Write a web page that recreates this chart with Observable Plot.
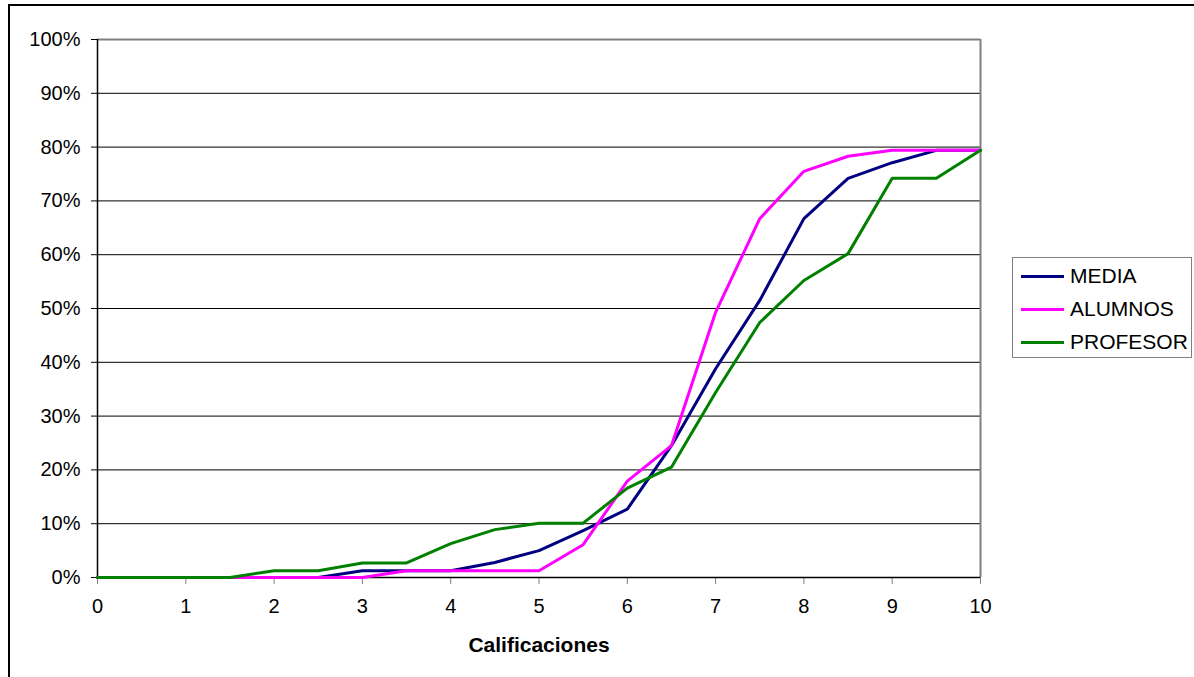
<!DOCTYPE html>
<html>
<head>
<meta charset="utf-8">
<script src="https://cdn.jsdelivr.net/npm/d3@7"></script>
<script src="https://cdn.jsdelivr.net/npm/@observablehq/plot@0.6"></script>
<style>
  html, body { margin: 0; padding: 0; background: #fff; overflow: hidden; }
  body { width: 1194px; height: 677px; position: relative; font-family: "Liberation Sans", Arial, sans-serif; }
  #frame { position: absolute; left: 8px; top: 4px; width: 1200px; height: 700px; border: 2px solid #000; box-sizing: border-box; }
  #chart { position: absolute; left: 0; top: 0; }
  #legend { position: absolute; left: 1012px; top: 257px; width: 180px; height: 101px; border: 1px solid #808080; box-sizing: border-box; background: #fff; }
  .item { position: absolute; left: 8px; height: 22px; font-size: 21px; line-height: 22px; color: #000; }
  .item .sw { position: absolute; left: 0; top: 10px; width: 43px; height: 3px; }
  .item .lb { position: absolute; left: 49px; top: 0; white-space: nowrap; }
</style>
</head>
<body>
<div id="frame"></div>
<div id="chart"></div>
<div id="legend"></div>
<script>
const grades = [0, 0.5, 1, 1.5, 2, 2.5, 3, 3.5, 4, 4.5, 5, 5.5, 6, 6.5, 7, 7.5, 8, 8.5, 9, 9.5, 10];
const media    = [0, 0, 0, 0, 0, 0, 1.25, 1.25, 1.25, 2.8, 5.0, 8.7, 12.7, 24.5, 38.8, 51.5, 66.7, 74.2, 77.1, 79.4, 79.4];
const alumnos  = [0, 0, 0, 0, 0, 0, 0, 1.25, 1.25, 1.25, 1.25, 6.1, 17.9, 24.5, 49.3, 66.7, 75.5, 78.3, 79.4, 79.4, 79.4];
const profesor = [0, 0, 0, 0, 1.25, 1.25, 2.7, 2.7, 6.3, 8.9, 10.1, 10.1, 16.6, 20.5, 34.4, 47.4, 55.2, 60.2, 74.2, 74.2, 79.4];
const seriesNames = ["MEDIA", "ALUMNOS", "PROFESOR"];
const seriesColors = ["#000080", "#FF00FF", "#008000"];
const xTicks = [0, 1, 2, 3, 4, 5, 6, 7, 8, 9, 10];
const yTicks = [0, 10, 20, 30, 40, 50, 60, 70, 80, 90, 100];
const gridTicks = [10, 20, 30, 40, 50, 60, 70, 80, 90];
const xLabel = "Calificaciones";

const seriesValues = [media, alumnos, profesor];
const rows = [];
seriesNames.forEach((name, s) => {
  grades.forEach((g, i) => rows.push({serie: name, grade: g, value: seriesValues[s][i]}));
});

const plot = Plot.plot({
  width: 1194,
  height: 677,
  marginLeft: 97,
  marginRight: 214,
  marginTop: 39,
  marginBottom: 100,
  style: {fontFamily: "Liberation Sans, Arial, sans-serif", fontSize: "20px", color: "#000", background: "transparent", overflow: "visible"},
  x: {domain: [0, 10], label: null},
  y: {domain: [0, 100], label: null},
  color: {domain: seriesNames, range: seriesColors},
  marks: [
    Plot.ruleY(gridTicks, {stroke: "#000", strokeWidth: 1}),
    Plot.ruleY([100], {stroke: "#808080", strokeWidth: 2}),
    Plot.ruleX([10], {stroke: "#808080", strokeWidth: 2}),
    Plot.axisX({ticks: xTicks, tickSize: 7, tickPadding: 14, stroke: "#808080", strokeOpacity: 1, fontSize: 20, label: null}),
    Plot.axisY({ticks: yTicks, tickSize: 6, tickPadding: 11, tickFormat: d => d + "%", strokeOpacity: 1, fontSize: 20, label: null}),
    Plot.ruleX([0], {stroke: "#000", strokeWidth: 1.5}),
    Plot.ruleY([0], {stroke: "#000", strokeWidth: 1.5}),
    Plot.line(rows, {x: "grade", y: "value", z: "serie", stroke: "serie", strokeWidth: 3, strokeLinejoin: "miter"}),
    Plot.text([xLabel], {frameAnchor: "bottom", dy: 74, fontWeight: "bold", fontSize: 21})
  ]
});
document.getElementById("chart").appendChild(plot);

const legend = document.getElementById("legend");
seriesNames.forEach((name, i) => {
  const item = document.createElement("div");
  item.className = "item";
  item.style.top = (7 + i * 33) + "px";
  item.innerHTML = `<div class="sw" style="background:${seriesColors[i]}"></div><div class="lb">${name}</div>`;
  legend.appendChild(item);
});
</script>
</body>
</html>
